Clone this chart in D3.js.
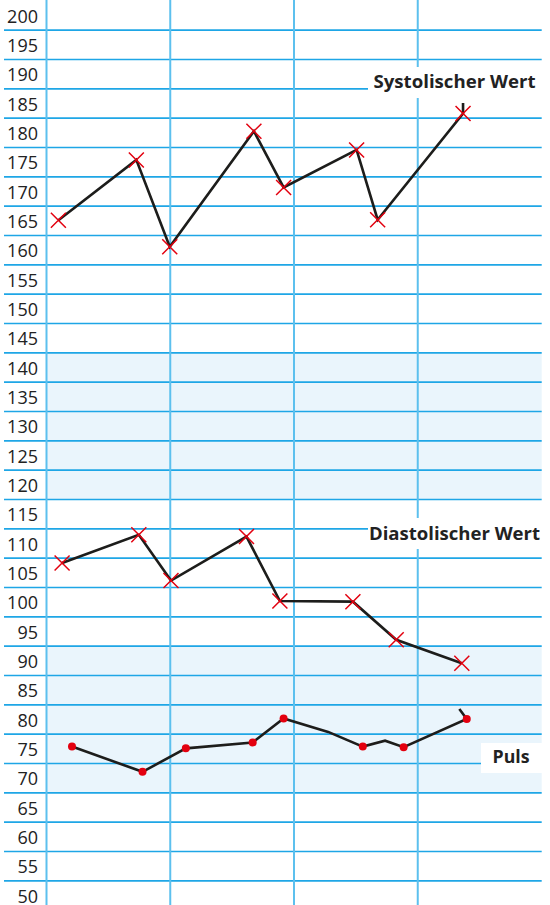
<!DOCTYPE html>
<html>
<head>
<meta charset="utf-8">
<script src="https://cdn.jsdelivr.net/npm/d3@7"></script>
<style>
  body { margin: 0; background: #fff; }
  text { font-family: "Open Sans", sans-serif; fill: #222; }
</style>
</head>
<body>
<div id="chart"></div>
<script>
// values (x = days, 0 = first vertical line)
var tickLabels = d3.range(200, 45, -5);
var dayLines = [0, 1, 2, 3];
var bands = [[142.5, 117.5], [92.5, 67.5]];

var sysTimes  = [0.10, 0.73, 1.00, 1.68, 1.92, 2.51, 2.68, 3.37, 3.37];
var sysValues = [165, 175.3, 160.5, 180.2, 170.6, 177, 165.1, 183.2, 185];
var sysMarked = [1, 1, 1, 1, 1, 1, 1, 1, 0];

var diaTimes  = [0.13, 0.75, 1.01, 1.62, 1.89, 2.48, 2.83, 3.36];
var diaValues = [106.6, 111.4, 103.6, 111.1, 100.1, 100, 93.5, 89.5];
var diaMarked = [1, 1, 1, 1, 1, 1, 1, 1];

var pulsTimes  = [0.21, 0.78, 1.13, 1.67, 1.92, 2.28, 2.56, 2.74, 2.89, 3.40, 3.34];
var pulsValues = [75.3, 71, 75, 76, 80.1, 77.8, 75.3, 76.3, 75.2, 80, 81.7];
var pulsMarked = [1, 1, 1, 1, 1, 0, 1, 0, 1, 1, 0];

var seriesNames = ["Systolischer Wert", "Diastolischer Wert", "Puls"];

var w = 550, h = 905;
var left = 46, right = 541.7;

var svg = d3.select("#chart").append("svg")
  .attr("width", w).attr("height", h);

var y = d3.scaleLinear().domain([50, 200]).range([895, 15]);
var x = d3.scaleLinear().domain([0, 4]).range([left, left + 4 * 123.75]);

var gridBlue = "#1ea6e6";

// shaded bands
svg.selectAll("rect.band")
  .data(bands)
  .enter().append("rect")
  .attr("class", "band")
  .attr("x", left)
  .attr("width", right - left)
  .attr("y", function(d) { return y(d[0]); })
  .attr("height", function(d) { return y(d[1]) - y(d[0]); })
  .style("fill", "#eaf5fc");

// horizontal grid lines, half way between the labels
var gridY = d3.axisLeft(y)
  .tickValues(d3.range(197.5, 50, -5))
  .tickSize(-(right - 4))
  .tickFormat("");
svg.append("g")
  .attr("transform", "translate(" + right + ",0)")
  .call(gridY)
  .call(function(g) { g.select(".domain").remove(); })
  .selectAll("line")
  .attr("x1", 0).attr("x2", -(right - 4))
  .style("stroke", gridBlue)
  .style("stroke-width", 1.6);

// vertical lines per day
var gridX = d3.axisTop(x).tickValues(dayLines).tickSize(-h).tickFormat("");
svg.append("g")
  .call(gridX)
  .call(function(g) { g.select(".domain").remove(); })
  .selectAll("line")
  .style("stroke", "#5cc0ee")
  .style("stroke-width", 2);

// value labels
var labelAxis = d3.axisLeft(y).tickValues(tickLabels).tickSize(0).tickPadding(0);
var lab = svg.append("g")
  .attr("transform", "translate(38,0)")
  .call(labelAxis);
lab.select(".domain").remove();
lab.selectAll("text")
  .attr("dy", 7)
  .style("font-family", "'Open Sans', sans-serif")
  .style("font-size", "18px")
  .style("fill", "#222");

// white boxes behind the series names
var boxes = [
  {x: 368, y: 67, w: 182, h: 31, tx: 373.5, ty: 88, tl: 162},
  {x: 368, y: 518, w: 182, h: 31, tx: 369, ty: 539.5, tl: 171},
  {x: 481, y: 743, w: 69, h: 30, tx: 492.5, ty: 762.7, tl: 37}
];
boxes.forEach(function(b, i) {
  svg.append("rect")
    .attr("x", b.x).attr("y", b.y).attr("width", b.w).attr("height", b.h)
    .style("fill", "#fff");
  svg.append("text")
    .attr("x", b.tx).attr("y", b.ty)
    .attr("textLength", b.tl)
    .attr("lengthAdjust", "spacingAndGlyphs")
    .style("font-size", "18px")
    .style("font-weight", "bold")
    .text(seriesNames[i]);
});

function pts(times, values, marked) {
  return times.map(function(t, i) { return {t: t, v: values[i], m: marked[i]}; });
}

var line = d3.line()
  .x(function(d) { return x(d.t); })
  .y(function(d) { return y(d.v); });

var series = [
  {data: pts(sysTimes, sysValues, sysMarked), mark: "cross"},
  {data: pts(diaTimes, diaValues, diaMarked), mark: "cross"},
  {data: pts(pulsTimes, pulsValues, pulsMarked), mark: "dot"}
];

series.forEach(function(s) {
  svg.append("path")
    .datum(s.data)
    .attr("d", line)
    .style("fill", "none")
    .style("stroke", "#1d1d1b")
    .style("stroke-width", 2.6)
    .style("stroke-linejoin", "miter");

  var m = s.data.filter(function(d) { return d.m; });
  if (s.mark == "cross") {
    var c = svg.append("g").selectAll("path")
      .data(m).enter().append("path")
      .attr("d", function(d) {
        var cx = x(d.t), cy = y(d.v), r = 7.5;
        return "M" + (cx - r) + "," + (cy - r) + "L" + (cx + r) + "," + (cy + r) +
               "M" + (cx - r) + "," + (cy + r) + "L" + (cx + r) + "," + (cy - r);
      })
      .style("stroke", "#e3000f")
      .style("stroke-width", 1.5)
      .style("fill", "none");
  } else {
    svg.append("g").selectAll("circle")
      .data(m).enter().append("circle")
      .attr("cx", function(d) { return x(d.t); })
      .attr("cy", function(d) { return y(d.v); })
      .attr("r", 4)
      .style("fill", "#e3000f");
  }
});
</script>
</body>
</html>
